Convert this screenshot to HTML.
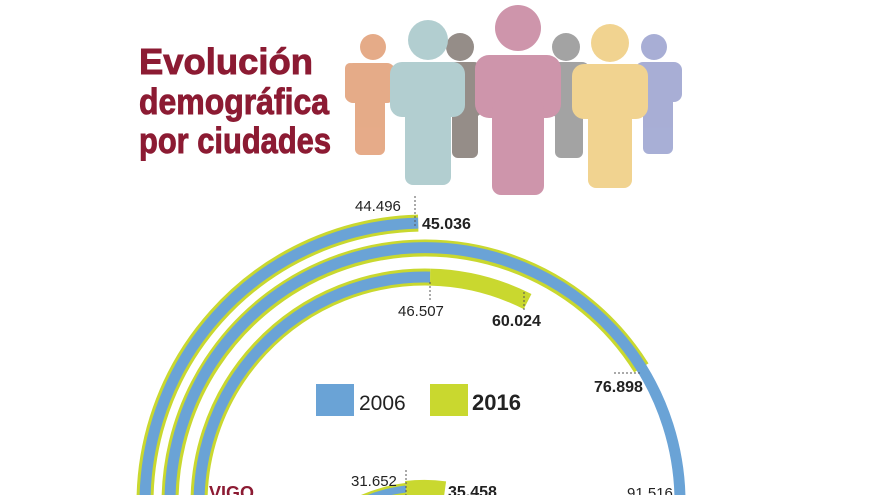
<!DOCTYPE html>
<html><head><meta charset="utf-8"><style>
html,body{margin:0;padding:0;background:#fff;width:880px;height:495px;overflow:hidden}
svg{display:block;overflow:hidden}
</style></head><body>
<svg width="880" height="495" viewBox="0 0 880 495" xmlns="http://www.w3.org/2000/svg" font-family="Liberation Sans, sans-serif">
<rect width="880" height="495" fill="#fff"/>
<!-- Title -->
<g fill="#8c1b33" stroke="#8c1b33" stroke-width="0.9" font-weight="bold" font-family="Liberation Sans, sans-serif" font-size="36">
<text x="139" y="74" textLength="174" lengthAdjust="spacingAndGlyphs">Evolución</text>
<text x="139" y="114" textLength="190" lengthAdjust="spacingAndGlyphs">demográfica</text>
<text x="139" y="153" textLength="192" lengthAdjust="spacingAndGlyphs">por ciudades</text>
</g>
<!-- People -->
<g opacity="0.9">
 <g fill="#8a817c"><circle cx="460" cy="47" r="14"/><rect x="448" y="62" width="34" height="55" rx="8"/><rect x="452" y="95" width="26" height="63" rx="6"/></g>
 <g fill="#9a9a9a"><circle cx="566" cy="47" r="14"/><rect x="550" y="62" width="40" height="55" rx="8"/><rect x="555" y="95" width="28" height="63" rx="6"/></g>
 <g fill="#e3a27c"><circle cx="373" cy="47" r="13"/><rect x="345" y="63" width="50" height="40" rx="8"/><rect x="345" y="63" width="10" height="38" rx="5"/><rect x="355" y="90" width="30" height="65" rx="6"/></g>
 <g fill="#9fa6d1"><circle cx="654" cy="47" r="13"/><rect x="635" y="62" width="47" height="40" rx="8"/><rect x="643" y="88" width="30" height="66" rx="6"/></g>
 <g fill="#aac9cc"><circle cx="428" cy="40" r="20"/><rect x="390" y="62" width="75" height="55" rx="12"/><rect x="405" y="100" width="46" height="85" rx="8"/></g>
 <g fill="#f0cf84"><circle cx="610" cy="43" r="19"/><rect x="572" y="64" width="76" height="55" rx="12"/><rect x="588" y="100" width="44" height="88" rx="8"/></g>
 <g fill="#c98aa3"><circle cx="518" cy="28" r="23"/><rect x="475" y="55" width="86" height="63" rx="14"/><rect x="492" y="100" width="52" height="95" rx="9"/></g>
</g>
<!-- Rings -->
<g fill="none" stroke-linecap="butt">
 <path d="M146.1 527.4 A280 280 0 0 1 418.2 223.1" stroke="#c9d82f" stroke-width="17"/>
 <path d="M146.1 527.4 A280 280 0 0 1 418.2 223.1" stroke="#6aa3d6" stroke-width="11"/>
 <path d="M171 525.2 A255 255 0 0 1 641.3 367.9" stroke="#c9d82f" stroke-width="17"/>
 <path d="M171 525.2 A255 255 0 1 1 679 525.2" stroke="#6aa3d6" stroke-width="11"/>
 <path d="M199.9 522.7 A226 226 0 0 1 430.1 277.1" stroke="#c9d82f" stroke-width="17"/>
 <path d="M199.9 522.7 A226 226 0 0 1 430.1 277.1" stroke="#6aa3d6" stroke-width="11"/>
 <path d="M430.1 277.1 A226 226 0 0 1 527.6 301.6" stroke="#c9d82f" stroke-width="17"/>
 <path d="M360 502 A152 152 0 0 1 406 489" stroke="#c9d82f" stroke-width="12"/>
 <path d="M360 502 A152 152 0 0 1 406 489" stroke="#6aa3d6" stroke-width="7"/>
 <path d="M406 489 A152 152 0 0 1 445 489.3" stroke="#c9d82f" stroke-width="16"/>
</g>
<!-- dotted guides -->
<g stroke="#555" stroke-width="1" stroke-dasharray="2,2" fill="none">
 <line x1="415" y1="196" x2="415" y2="228"/>
 <line x1="430" y1="282" x2="430" y2="300"/>
 <line x1="524" y1="292" x2="524" y2="310"/>
 <line x1="614" y1="373" x2="640" y2="373"/>
 <line x1="406" y1="470" x2="406" y2="495"/>
</g>
<!-- labels -->
<g fill="#222" font-size="15">
 <text x="355" y="211">44.496</text>
 <text x="398" y="316">46.507</text>
 <text x="351" y="486">31.652</text>
 <text x="627" y="498">91.516</text>
</g>
<g fill="#222" font-size="16" font-weight="bold">
 <text x="422" y="229">45.036</text>
 <text x="492" y="326">60.024</text>
 <text x="594" y="392">76.898</text>
 <text x="448" y="497">35.458</text>
</g>
<text x="209" y="499" fill="#8c1b33" font-size="18" font-weight="bold">VIGO</text>
<!-- legend -->
<rect x="316" y="384" width="38" height="32" fill="#6aa3d6"/>
<text x="359" y="410" font-size="21" fill="#222">2006</text>
<rect x="430" y="384" width="38" height="32" fill="#c9d82f"/>
<text x="472" y="410" font-size="22" font-weight="bold" fill="#222">2016</text>
</svg>
</body></html>
